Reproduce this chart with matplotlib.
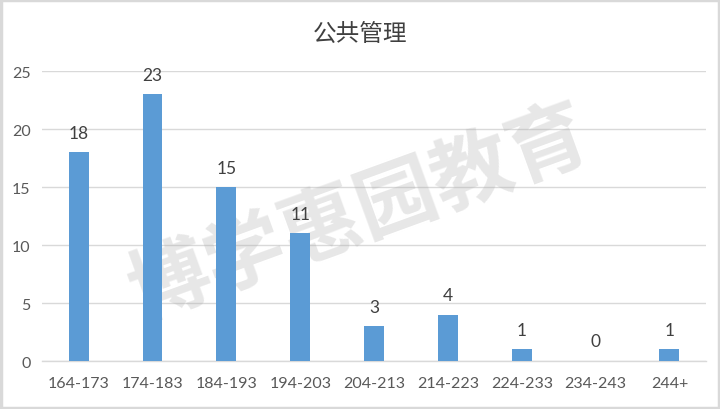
import matplotlib
matplotlib.use("Agg")
import matplotlib.pyplot as plt
from matplotlib.patches import Rectangle

categories = ["164-173", "174-183", "184-193", "194-203", "204-213",
              "214-223", "224-233", "234-243", "244+"]
counts = [18, 23, 15, 11, 3, 4, 1, 0, 1]
y_ticks = [0, 5, 10, 15, 20, 25]

plt.rcParams['font.family'] = ['Lato', 'Noto Sans CJK SC', 'DejaVu Sans']

fig = plt.figure(figsize=(7.2, 4.1), dpi=100)
ax = fig.add_axes([0.058, 0.117, 0.923, 0.707])

x = list(range(len(categories)))
ax.bar(x, counts, width=0.27, color="#5B9BD5", zorder=3)
for xi, v in zip(x, counts):
    ax.text(xi, v + 1.0, str(v), ha="center", va="bottom", fontsize=12.5,
            color="#404040", zorder=4)

ax.set_xlim(-0.5, len(categories) - 0.5)
ax.set_ylim(0, 25)
ax.set_yticks(y_ticks)
ax.set_xticks(x)
ax.set_xticklabels(categories)
ax.tick_params(axis="both", length=0, labelsize=11.5, colors="#595959")
ax.tick_params(axis="x", pad=11)
ax.tick_params(axis="y", pad=8)
ax.yaxis.grid(True, color="#d9d9d9", linewidth=1, zorder=0)
for side in ("top", "right", "left"):
    ax.spines[side].set_visible(False)
ax.spines["bottom"].set_color("#d9d9d9")
ax.spines["bottom"].set_linewidth(1)

fig.text(0.5, 0.915, "公共管理", ha="center", va="center", fontsize=17,
         color="#404040", family=["Noto Sans CJK SC", "DejaVu Sans"])

# watermark, under the bars
ax.text(0.5, 0.475, "博学惠园教育", transform=fig.transFigure,
        ha="center", va="center", fontsize=58, rotation=20,
        color="#b0b0b0", alpha=0.3, fontweight="bold",
        family=["Noto Sans CJK SC"], zorder=2)

# outer frame
fig.patches.append(Rectangle((0.002, 0.003), 0.996, 0.994, transform=fig.transFigure,
                             fill=False, edgecolor="#d9d9d9", linewidth=2.5))

fig.savefig("out.png", dpi=100)
